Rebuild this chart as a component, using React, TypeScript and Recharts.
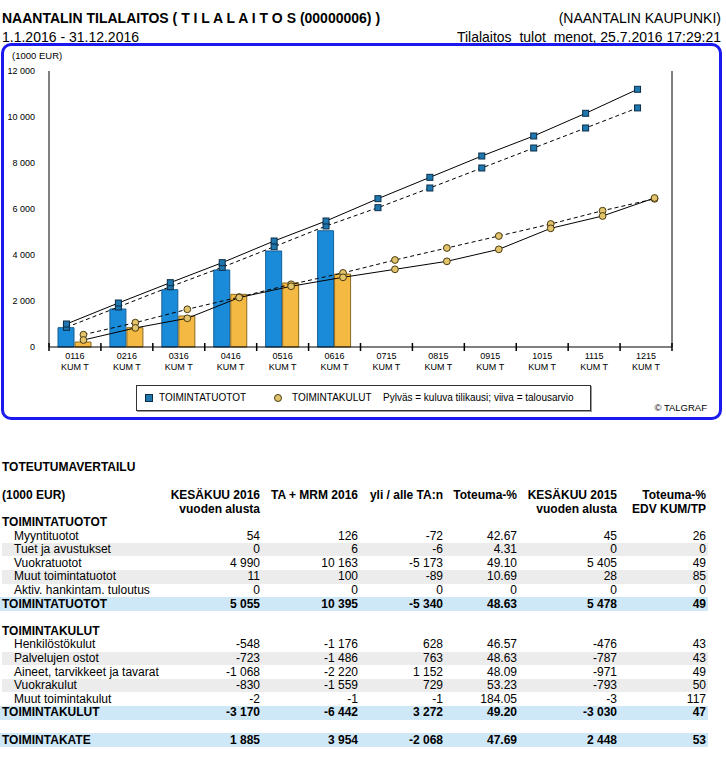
import { Bar, ComposedChart, Line, XAxis, YAxis } from 'recharts'

const months = ['0116', '0216', '0316', '0416', '0516', '0616', '0715', '0815', '0915', '1015', '1115', '1215']
const monthSuffix = 'KUM T'

// bars: current year, cumulative
const tuotot2016 = [840, 1652, 2493, 3348, 4174, 5055]
const kulut2016 = [217, 840, 1348, 2290, 2783, 3170]
// lines: previous year (solid) and budget (dashed)
const tuototEdv = [1000, 1913, 2797, 3667, 4609, 5478, 6449, 7377, 8304, 9174, 10161, 11204]
const tuototTa = [856, 1739, 2623, 3464, 4361, 5261, 6058, 6913, 7783, 8652, 9522, 10395]
const kulutEdv = [304, 830, 1248, 2150, 2640, 3030, 3377, 3725, 4246, 5159, 5696, 6478]
const kulutTa = [536, 1058, 1639, 2170, 2726, 3221, 3783, 4304, 4826, 5348, 5926, 6442]
const yTicks = [0, 2000, 4000, 6000, 8000, 10000, 12000]

const tableHeads = [
  ['KESÄKUU 2016', 'vuoden alusta'],
  ['TA + MRM 2016', ''],
  ['yli / alle TA:n', ''],
  ['Toteuma-%', ''],
  ['KESÄKUU 2015', 'vuoden alusta'],
  ['Toteuma-%', 'EDV KUM/TP'],
]
const tuototLabels = ['Myyntituotot', 'Tuet ja avustukset', 'Vuokratuotot', 'Muut toimintatuotot', 'Aktiv. hankintam. tuloutus']
const tuototValues = [
  ['54', '126', '-72', '42.67', '45', '26'],
  ['0', '6', '-6', '4.31', '0', '0'],
  ['4 990', '10 163', '-5 173', '49.10', '5 405', '49'],
  ['11', '100', '-89', '10.69', '28', '85'],
  ['0', '0', '0', '0', '0', '0'],
]
const tuototTotal = ['5 055', '10 395', '-5 340', '48.63', '5 478', '49']
const kulutLabels = ['Henkilöstökulut', 'Palvelujen ostot', 'Aineet, tarvikkeet ja tavarat', 'Vuokrakulut', 'Muut toimintakulut']
const kulutValues = [
  ['-548', '-1 176', '628', '46.57', '-476', '43'],
  ['-723', '-1 486', '763', '48.63', '-787', '43'],
  ['-1 068', '-2 220', '1 152', '48.09', '-971', '49'],
  ['-830', '-1 559', '729', '53.23', '-793', '50'],
  ['-2', '-1', '-1', '184.05', '-3', '117'],
]
const kulutTotal = ['-3 170', '-6 442', '3 272', '49.20', '-3 030', '47']
const kateTotal = ['1 885', '3 954', '-2 068', '47.69', '2 448', '53']

const SANS = '"Liberation Sans", Arial, sans-serif'
const BAND = 623 / 12
const SHIFT = 8.5 / BAND

const chartData = months.map((m, i) => ({
  month: m,
  xTu: i + 0.5 - SHIFT,
  xKu: i + 0.5 + SHIFT,
  tuotot: tuotot2016[i] ?? null,
  kulut: kulut2016[i] ?? null,
  tuototEdv: tuototEdv[i],
  tuototTa: tuototTa[i],
  kulutEdv: kulutEdv[i],
  kulutTa: kulutTa[i],
}))

const fmt = (v: number) => v.toLocaleString('en-US').replace(/,/g, ' ')

function MonthTick({ x, y, payload, index }: any) {
  const axisY = y - 5
  const half = BAND / 2
  return (
    <g>
      <line x1={x - half} x2={x - half} y1={axisY - 4} y2={axisY + 4} stroke="#000" strokeWidth={1.5} />
      {index === months.length - 1 && (
        <line x1={x + half} x2={x + half} y1={axisY - 4} y2={axisY + 4} stroke="#000" strokeWidth={1.5} />
      )}
      <text x={x} y={y} textAnchor="middle" fontSize={9} fontFamily={SANS} fill="#000">
        <tspan x={x} dy="0.78em">{payload.value}</tspan>
        <tspan x={x} dy="1.2em">{monthSuffix}</tspan>
      </text>
    </g>
  )
}

function YTick({ x, y, payload, textAnchor }: any) {
  return (
    <text x={x} y={y} dy="0.35em" textAnchor={textAnchor} fontSize={9} fontFamily={SANS} fill="#000">
      {fmt(payload.value)}
    </text>
  )
}

function SquareDot({ cx, cy, index }: any) {
  if (cx == null || cy == null) return <g key={index} />
  return <rect key={index} x={cx - 3} y={cy - 3} width={6} height={6} fill="#1f77ad" stroke="#0a2e4a" strokeWidth={1} strokeDasharray="0" />
}

function CircleDot({ cx, cy, index }: any) {
  if (cx == null || cy == null) return <g key={index} />
  return <circle key={index} cx={cx} cy={cy} r={3.4} fill="#e2c46c" stroke="#4a3a10" strokeWidth={1} />
}

function Chart() {
  return (
    <ComposedChart
      width={726}
      height={420}
      data={chartData}
      margin={{ top: 71, right: 4, bottom: 43, left: 9 }}
      barGap={1}
    >
      <XAxis xAxisId="cat" dataKey="month" interval={0} tickSize={0} tickMargin={5} height={30}
        tickLine={false} axisLine={{ stroke: '#000' }} tick={<MonthTick />} />
      <XAxis xAxisId="tu" dataKey="xTu" type="number" domain={[0, 12]} hide allowDataOverflow />
      <XAxis xAxisId="ku" dataKey="xKu" type="number" domain={[0, 12]} hide allowDataOverflow />
      <YAxis yAxisId="l" domain={[0, 12000]} ticks={yTicks} interval={0} width={40} tickLine={false}
        tickMargin={8} axisLine={{ stroke: '#000' }} tick={<YTick />} />
      <YAxis yAxisId="r" orientation="right" domain={[0, 12000]} ticks={yTicks} interval={0} width={50}
        tickLine={false} tickMargin={8} axisLine={{ stroke: '#000' }} tick={<YTick />} />
      <Bar xAxisId="cat" yAxisId="l" dataKey="tuotot" barSize={16} fill="#1a8bd8" stroke="#155f96" isAnimationActive={false} />
      <Bar xAxisId="cat" yAxisId="l" dataKey="kulut" barSize={16} fill="#f4b942" stroke="#8a6a22" isAnimationActive={false} />
      <Line xAxisId="tu" yAxisId="l" dataKey="tuototTa" stroke="#000" strokeWidth={1} strokeDasharray="4 3"
        dot={<SquareDot />} isAnimationActive={false} />
      <Line xAxisId="tu" yAxisId="l" dataKey="tuototEdv" stroke="#000" strokeWidth={1}
        dot={<SquareDot />} isAnimationActive={false} />
      <Line xAxisId="ku" yAxisId="l" dataKey="kulutTa" stroke="#000" strokeWidth={1} strokeDasharray="4 3"
        dot={<CircleDot />} isAnimationActive={false} />
      <Line xAxisId="ku" yAxisId="l" dataKey="kulutEdv" stroke="#000" strokeWidth={1}
        dot={<CircleDot />} isAnimationActive={false} />
    </ComposedChart>
  )
}

const COL_RIGHT = [260, 358, 443, 517, 617, 706]
const ROW_H = 13.6
const FIRST_ROW = 522.5

const txt = (center: number, extra: any) => ({
  position: 'absolute' as const,
  whiteSpace: 'nowrap' as const,
  top: center - 6.5,
  lineHeight: '13px',
  ...extra,
})

function Row({ center, label, values, bold, indent, bg }: any) {
  const fw = bold ? 'bold' : 'normal'
  return (
    <>
      {bg && (
        <div style={{ position: 'absolute', left: bg === 'total' ? 0 : 2, width: 708 - (bg === 'total' ? 0 : 2), top: center - 6.8, height: 13.6, background: bg === 'total' ? '#cfe8f8' : '#ececec' }} />
      )}
      <div style={txt(center, { left: indent ? 14 : 2, fontWeight: fw })}>{label}</div>
      {values && values.map((v: string, i: number) => (
        <div key={i} style={txt(center, { right: 726 - COL_RIGHT[i], fontWeight: fw })}>{v}</div>
      ))}
    </>
  )
}

function Table() {
  const y = (i: number) => FIRST_ROW + i * ROW_H
  return (
    <div style={{ position: 'absolute', left: 0, top: 0, width: 726, fontFamily: SANS, fontSize: 12, color: '#000' }}>
      <div style={txt(467, { left: 2, fontWeight: 'bold' })}>TOTEUTUMAVERTAILU</div>
      <div style={txt(495, { left: 2, fontWeight: 'bold' })}>(1000 EUR)</div>
      {tableHeads.map((h, i) => (
        <div key={i} style={{ position: 'absolute', whiteSpace: 'nowrap', right: 726 - COL_RIGHT[i], top: 488, lineHeight: '14px', fontWeight: 'bold', textAlign: 'right' }}>
          <div>{h[0]}</div>
          <div>{h[1]}</div>
        </div>
      ))}
      <Row center={y(0)} label="TOIMINTATUOTOT" bold />
      {tuototLabels.map((l, i) => (
        <Row key={l} center={y(1 + i)} label={l} values={tuototValues[i]} indent bg={i % 2 === 1 ? 'alt' : undefined} />
      ))}
      <Row center={y(6)} label="TOIMINTATUOTOT" values={tuototTotal} bold bg="total" />
      <Row center={y(8)} label="TOIMINTAKULUT" bold />
      {kulutLabels.map((l, i) => (
        <Row key={l} center={y(9 + i)} label={l} values={kulutValues[i]} indent bg={i % 2 === 1 ? 'alt' : undefined} />
      ))}
      <Row center={y(14)} label="TOIMINTAKULUT" values={kulutTotal} bold bg="total" />
      <Row center={y(16)} label="TOIMINTAKATE" values={kateTotal} bold bg="total" />
    </div>
  )
}

export default function App() {
  const abs = { position: 'absolute' as const, whiteSpace: 'nowrap' as const }
  const head = { ...abs, fontSize: 14, lineHeight: '15px', transform: 'scaleY(1.08)' }
  return (
    <div style={{ position: 'absolute', left: 0, top: 0, width: 726, height: 757, background: '#fff', fontFamily: SANS }}>
      <div style={{ ...head, left: 2, top: 11, fontWeight: 'bold' }}>
        NAANTALIN TILALAITOS ( T I L A L A I T O S (00000006) )
      </div>
      <div style={{ ...head, left: 2, top: 29.5 }}>1.1.2016 - 31.12.2016</div>
      <div style={{ ...head, right: 5, top: 11 }}>(NAANTALIN KAUPUNKI)</div>
      <div style={{ ...head, right: 5, top: 29.5 }}>Tilalaitos_tulot_menot, 25.7.2016 17:29:21</div>
      <div style={{ position: 'absolute', left: 1, top: 43, width: 721, height: 377, boxSizing: 'border-box', border: '3px solid #1a1af0', borderRadius: 10 }} />
      <div style={{ ...abs, left: 12, top: 50, fontSize: 9.5, lineHeight: '12px' }}>(1000 EUR)</div>
      <div style={{ position: 'absolute', left: 0, top: 0 }}>
        <Chart />
      </div>
      <div style={{ position: 'absolute', left: 136, top: 385, width: 455, height: 26, boxSizing: 'border-box', border: '1px solid #333', boxShadow: '1px 1px 0 #999', fontSize: 10, background: '#fff' }}>
        <div style={{ ...abs, left: 8, top: 8, width: 6, height: 6, background: '#1f77ad', border: '1px solid #0a2e4a' }} />
        <div style={{ ...abs, left: 22, top: 6, lineHeight: '12px' }}>TOIMINTATUOTOT</div>
        <div style={{ ...abs, left: 137, top: 8, width: 6, height: 6, borderRadius: '50%', background: '#e2c46c', border: '1px solid #4a3a10' }} />
        <div style={{ ...abs, left: 155, top: 6, lineHeight: '12px' }}>TOIMINTAKULUT</div>
        <div style={{ ...abs, left: 246, top: 6, lineHeight: '12px' }}>Pylväs = kuluva tilikausi; viiva = talousarvio</div>
      </div>
      <div style={{ ...abs, right: 19, top: 402, fontSize: 9.5, lineHeight: '12px' }}>© TALGRAF</div>
      <Table />
    </div>
  )
}
